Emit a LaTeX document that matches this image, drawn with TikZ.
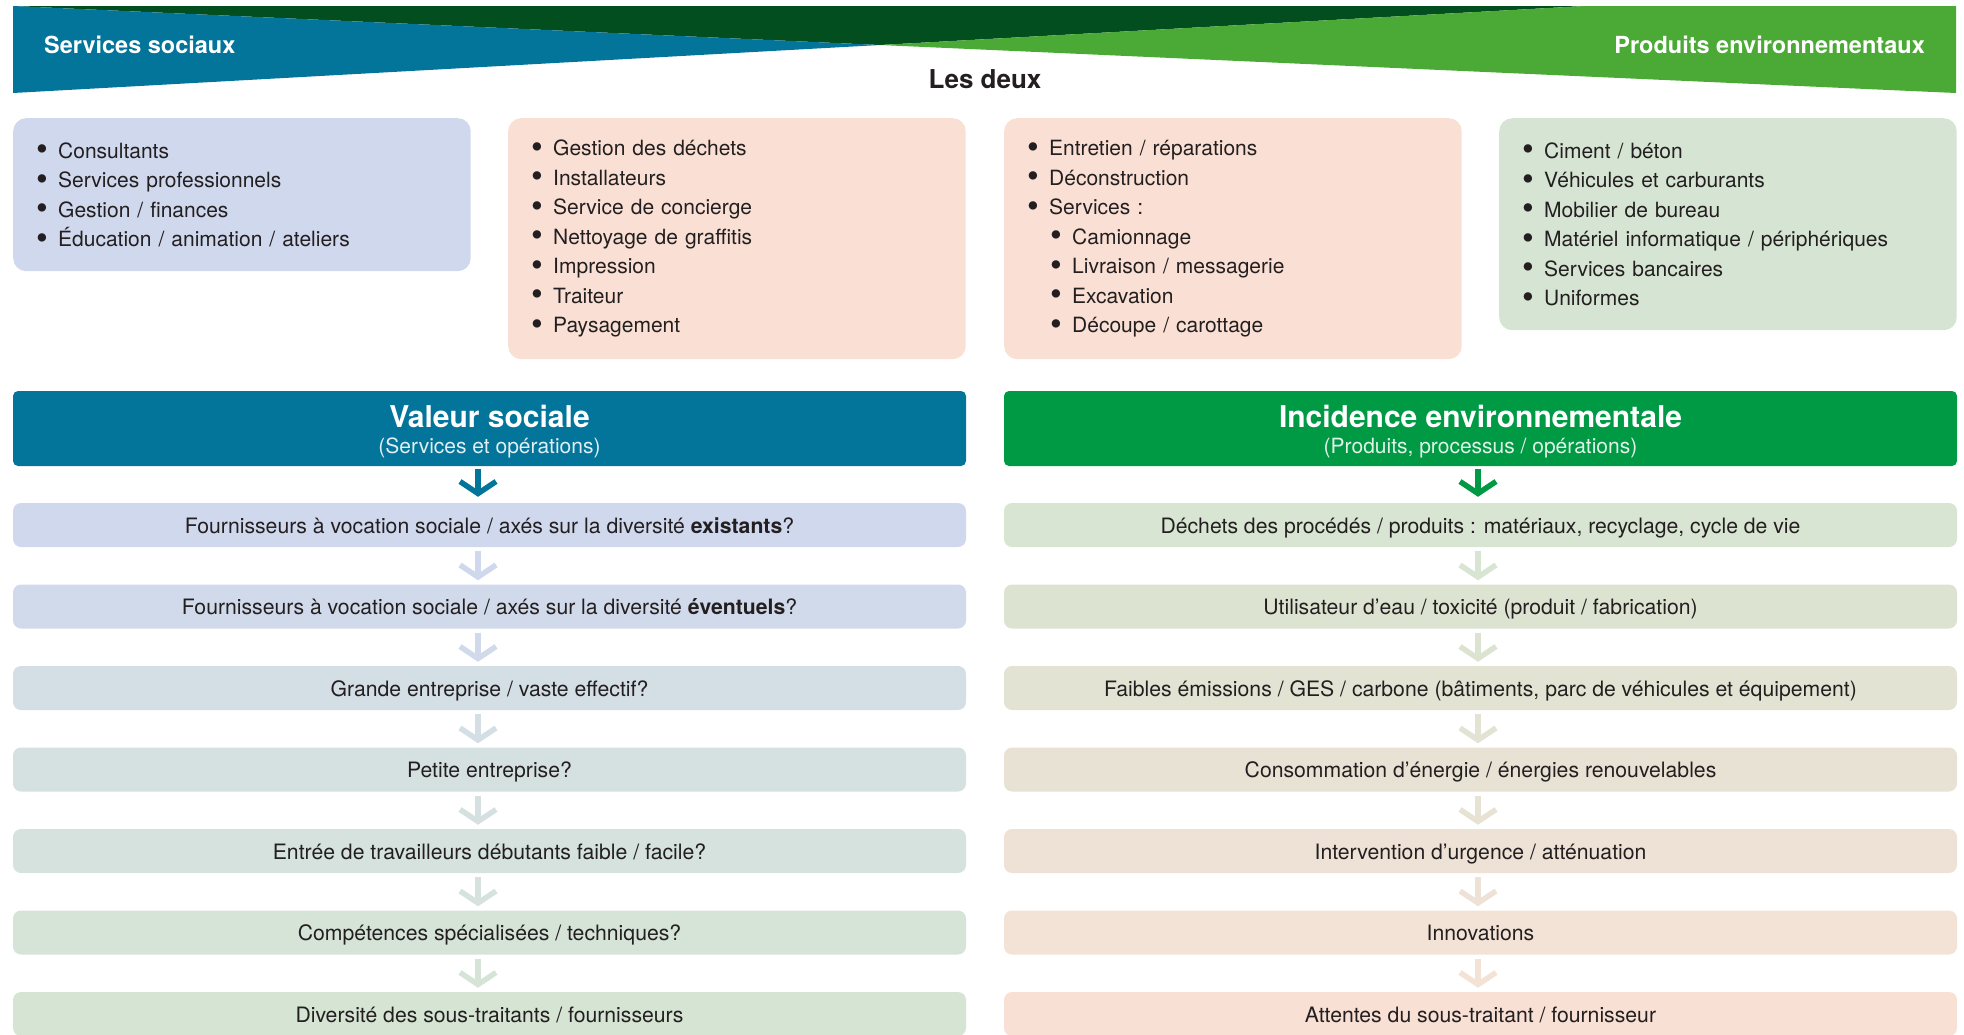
\documentclass[tikz,border=0pt]{standalone}
\usepackage{fontspec}
\setmainfont{TeX Gyre Heros}
\usepackage{tikz}
\usetikzlibrary{arrows.meta}

\definecolor{socblue}{HTML}{03759A}
\definecolor{envgreen}{HTML}{009A44}
\definecolor{darkgreen}{HTML}{034E1F}
\definecolor{leafgreen}{HTML}{4AAA35}
\definecolor{txt}{HTML}{231F20}
\definecolor{lavender}{HTML}{D0D8EE}
\definecolor{peach}{HTML}{FAE0D4}
\definecolor{sage}{HTML}{D6E4D3}
% left column, top to bottom
\definecolor{soc1}{HTML}{D0D8EE}
\definecolor{soc2}{HTML}{D1DAEA}
\definecolor{soc3}{HTML}{D3DEE5}
\definecolor{soc4}{HTML}{D5E1E0}
\definecolor{soc5}{HTML}{D5E2DD}
\definecolor{soc6}{HTML}{D6E4D8}
\definecolor{soc7}{HTML}{D6E5D3}
% right column, top to bottom
\definecolor{env1}{HTML}{D8E5D2}
\definecolor{env2}{HTML}{DCE4D1}
\definecolor{env3}{HTML}{E3E3D3}
\definecolor{env4}{HTML}{E8E2D5}
\definecolor{env5}{HTML}{EDE2D5}
\definecolor{env6}{HTML}{F3E2D6}
\definecolor{env7}{HTML}{F8E0D5}

\newcommand{\dotglyph}{\smash{\raisebox{-2.6pt}{\scalebox{1.6}{\textbullet}}}}
\newcommand{\bul}{\makebox[21pt][l]{\hspace*{-1pt}\dotglyph}}
\newcommand{\subbul}{\hspace*{23pt}\makebox[21pt][l]{\hspace*{-1pt}\dotglyph}}

\begin{document}
\begin{tikzpicture}[x=1pt, y=-1pt, text=txt, font=\fontsize{21.2}{25}\selectfont]

    \tikzstyle{listbox} = [rectangle, rounded corners=13pt, anchor=north west, inner xsep=24pt, inner ysep=0pt, text width=409.5pt, align=left, minimum height=153pt, font=\fontsize{21}{29.5}\selectfont]
    \tikzstyle{head} = [rectangle, rounded corners=5pt, minimum width=953pt, minimum height=75pt, inner sep=0pt]
    \tikzstyle{headtext} = [inner sep=0pt, text=white, align=center, font=\fontsize{21}{26.5}\selectfont]
    \tikzstyle{crit} = [rectangle, rounded corners=8pt, minimum width=953pt, minimum height=44pt, inner sep=0pt, text height=20pt, text depth=4pt]
    \tikzstyle{arrow} = [line width=5.5pt, -{Straight Barb[length=12pt, width=36pt]}]
    \tikzstyle{banner} = [inner sep=0pt, text=white, font=\fontsize{23.5}{25}\selectfont\bfseries]

    \useasboundingbox (0,0) rectangle (1964,1034);

    % banner
    \fill[darkgreen] (13,6) -- (1585,6) -- (880,45) -- cycle;
    \fill[socblue] (13,6) -- (880,45) -- (13,93) -- cycle;
    \fill[leafgreen] (880,45) -- (1585,6) -- (1956,6) -- (1956,93) -- cycle;

    \node[banner, anchor=west] (socs) at (44,45) {Services sociaux};
    \node[banner, anchor=east] (envp) at (1925,45) {Produits environnementaux};
    \node[font=\fontsize{26}{28}\selectfont\bfseries] (deux) at (985,79) {Les deux};

    % examples
    \node[listbox, fill=lavender] (cons) at (13,118)
        {\bul Consultants\\ \bul Services professionnels\\ \bul Gestion / finances\\ \bul Éducation / animation / ateliers};
    \node[listbox, fill=peach, minimum height=241pt] (dech) at (508,118)
        {\bul Gestion des déchets\\ \bul Installateurs\\ \bul Service de concierge\\ \bul Nettoyage de graffitis\\ \bul Impression\\ \bul Traiteur\\ \bul Paysagement};
    \node[listbox, fill=peach, minimum height=241pt] (entr) at (1004,118)
        {\bul Entretien / réparations\\ \bul Déconstruction\\ \bul Services :\\ \subbul Camionnage\\ \subbul Livraison / messagerie\\ \subbul Excavation\\ \subbul Découpe / carottage};
    \node[listbox, fill=sage, minimum height=212pt] (cim) at (1499,118)
        {\bul Ciment / béton\\ \bul Véhicules et carburants\\ \bul Mobilier de bureau\\ \bul Matériel informatique / périphériques\\ \bul Services bancaires\\ \bul Uniformes};

    % headers
    \node[head, fill=socblue] (valsoc) at (489.5,428.5) {};
    \node[headtext] (valsoctxt) at ([yshift=-3pt]valsoc.center)
        {{\fontsize{30}{26}\selectfont\bfseries Valeur sociale}\\{\color{white!88!socblue}(Services et opérations)}};
    \node[head, fill=envgreen] (incenv) at (1480.5,428.5) {};
    \node[headtext] (incenvtxt) at ([yshift=-3pt]incenv.center)
        {{\fontsize{30}{26}\selectfont\bfseries Incidence environnementale}\\{\color{white!88!envgreen}(Produits, processus / opérations)}};

    % social column
    \node[crit, fill=soc1] (s1) at (489.5,525) {Fournisseurs à vocation sociale / axés sur la diversité \textbf{existants}?};
    \node[crit, fill=soc2] (s2) at (489.5,606.5) {Fournisseurs à vocation sociale / axés sur la diversité \textbf{éventuels}?};
    \node[crit, fill=soc3] (s3) at (489.5,688) {Grande entreprise / vaste effectif?};
    \node[crit, fill=soc4] (s4) at (489.5,769.5) {Petite entreprise?};
    \node[crit, fill=soc5] (s5) at (489.5,851) {Entrée de travailleurs débutants faible / facile?};
    \node[crit, fill=soc6] (s6) at (489.5,932.5) {Compétences spécialisées / techniques?};
    \node[crit, fill=soc7] (s7) at (489.5,1014) {Diversité des sous-traitants / fournisseurs};

    % environmental column
    \node[crit, fill=env1] (e1) at (1480.5,525) {Déchets des procédés / produits : matériaux, recyclage, cycle de vie};
    \node[crit, fill=env2] (e2) at (1480.5,606.5) {Utilisateur d’eau / toxicité (produit / fabrication)};
    \node[crit, fill=env3] (e3) at (1480.5,688) {Faibles émissions / GES / carbone (bâtiments, parc de véhicules et équipement)};
    \node[crit, fill=env4] (e4) at (1480.5,769.5) {Consommation d’énergie / énergies renouvelables};
    \node[crit, fill=env5] (e5) at (1480.5,851) {Intervention d’urgence / atténuation};
    \node[crit, fill=env6] (e6) at (1480.5,932.5) {Innovations};
    \node[crit, fill=env7] (e7) at (1480.5,1014) {Attentes du sous-traitant / fournisseur};

    \draw[arrow, socblue] ([xshift=-11.5pt, yshift=-3pt]valsoc.south) -- ([xshift=-11.5pt, yshift=6pt]s1.north);
    \draw[arrow, soc1] ([xshift=-11.5pt, yshift=-4pt]s1.south) -- ([xshift=-11.5pt, yshift=4pt]s2.north);
    \draw[arrow, soc2] ([xshift=-11.5pt, yshift=-4pt]s2.south) -- ([xshift=-11.5pt, yshift=4pt]s3.north);
    \draw[arrow, soc3] ([xshift=-11.5pt, yshift=-4pt]s3.south) -- ([xshift=-11.5pt, yshift=4pt]s4.north);
    \draw[arrow, soc4] ([xshift=-11.5pt, yshift=-4pt]s4.south) -- ([xshift=-11.5pt, yshift=4pt]s5.north);
    \draw[arrow, soc5] ([xshift=-11.5pt, yshift=-4pt]s5.south) -- ([xshift=-11.5pt, yshift=4pt]s6.north);
    \draw[arrow, soc6] ([xshift=-11.5pt, yshift=-4pt]s6.south) -- ([xshift=-11.5pt, yshift=4pt]s7.north);

    \draw[arrow, envgreen] ([xshift=-2.5pt, yshift=-3pt]incenv.south) -- ([xshift=-2.5pt, yshift=6pt]e1.north);
    \draw[arrow, env1] ([xshift=-2.5pt, yshift=-4pt]e1.south) -- ([xshift=-2.5pt, yshift=4pt]e2.north);
    \draw[arrow, env2] ([xshift=-2.5pt, yshift=-4pt]e2.south) -- ([xshift=-2.5pt, yshift=4pt]e3.north);
    \draw[arrow, env3] ([xshift=-2.5pt, yshift=-4pt]e3.south) -- ([xshift=-2.5pt, yshift=4pt]e4.north);
    \draw[arrow, env4] ([xshift=-2.5pt, yshift=-4pt]e4.south) -- ([xshift=-2.5pt, yshift=4pt]e5.north);
    \draw[arrow, env5] ([xshift=-2.5pt, yshift=-4pt]e5.south) -- ([xshift=-2.5pt, yshift=4pt]e6.north);
    \draw[arrow, env6] ([xshift=-2.5pt, yshift=-4pt]e6.south) -- ([xshift=-2.5pt, yshift=4pt]e7.north);

\end{tikzpicture}
\end{document}
